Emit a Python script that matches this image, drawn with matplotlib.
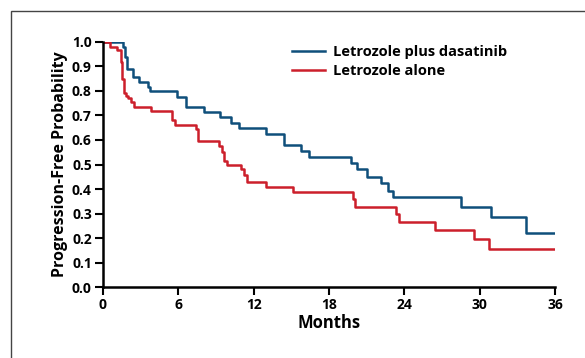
import matplotlib.pyplot as plt
from matplotlib.patches import Rectangle

# Kaplan-Meier step curves (months, progression-free probability)
combo_t = [0, 1.6, 1.75, 1.9, 2.4, 2.9, 3.6, 3.75, 5.87, 6.65, 8.07, 9.3, 10.2, 10.8,
           13.0, 14.4, 15.76, 16.4, 19.75, 20.2, 21.0, 22.1, 22.7, 23.07, 28.5, 30.9,
           33.7, 36]
combo_s = [1.0, 0.98, 0.94, 0.89, 0.855, 0.835, 0.817, 0.80, 0.777, 0.733, 0.713, 0.693,
           0.668, 0.65, 0.624, 0.58, 0.556, 0.532, 0.507, 0.48, 0.45, 0.423, 0.393, 0.366,
           0.328, 0.287, 0.222, 0.222]

alone_t = [0, 0.6, 1.1, 1.4, 1.5, 1.65, 1.85, 2.0, 2.2, 2.5, 3.8, 5.5, 5.7, 7.4, 7.55,
           9.26, 9.5, 9.65, 9.9, 11.0, 11.2, 11.5, 13.0, 15.1, 19.9, 20.06, 23.3, 23.6,
           26.4, 29.5, 30.75, 36]
alone_s = [1.0, 0.98, 0.965, 0.92, 0.85, 0.79, 0.78, 0.77, 0.754, 0.736, 0.718, 0.68,
           0.661, 0.644, 0.596, 0.575, 0.552, 0.515, 0.498, 0.48, 0.457, 0.43, 0.409,
           0.389, 0.358, 0.328, 0.297, 0.267, 0.233, 0.195, 0.154, 0.154]

x_ticks = [0, 6, 12, 18, 24, 30, 36]
y_ticks = [0.0, 0.1, 0.2, 0.3, 0.4, 0.5, 0.6, 0.7, 0.8, 0.9, 1.0]

blue = '#0f4f7b'
red = '#cc1f2b'

plt.rcParams['font.family'] = ['Open Sans', 'DejaVu Sans']
plt.rcParams['font.weight'] = 'bold'

fig = plt.figure(figsize=(5.85, 3.58), dpi=100)
ax = fig.add_axes([0.176, 0.198, 0.773, 0.685])

ax.step(combo_t, combo_s, where='post', color=blue, lw=1.8, label='Letrozole plus dasatinib')
ax.step(alone_t, alone_s, where='post', color=red, lw=1.8, label='Letrozole alone')

ax.set_xlim(0, 36)
ax.set_ylim(0, 1.0)
ax.set_xticks(x_ticks)
ax.set_yticks(y_ticks)
ax.set_xticklabels([str(v) for v in x_ticks])
ax.set_yticklabels([f'{v:.1f}' for v in y_ticks])
ax.tick_params(direction='out', length=6, width=1.5, pad=2, labelsize=10)
for lab in ax.get_xticklabels() + ax.get_yticklabels():
    lab.set_fontweight('bold')

for side in ['top', 'right']:
    ax.spines[side].set_visible(False)
for side in ['left', 'bottom']:
    ax.spines[side].set_linewidth(1.8)

ax.set_xlabel('Months', fontsize=12, fontweight='bold', labelpad=1)
ax.set_ylabel('Progression-Free Probability', fontsize=11.5, fontweight='bold', labelpad=3)

ax.legend(loc='upper left', bbox_to_anchor=(0.39, 1.04), frameon=False,
          prop={'size': 10.5, 'weight': 'bold'}, handlelength=2.2,
          handletextpad=0.6, labelspacing=0.35)

# thin frame around the figure
fig.add_artist(Rectangle((11 / 585, -0.1), 1.0, 1.1 - 11 / 358, transform=fig.transFigure,
                         fill=False, edgecolor='#444444', lw=1.0))

fig.savefig('out.png', dpi=100)
